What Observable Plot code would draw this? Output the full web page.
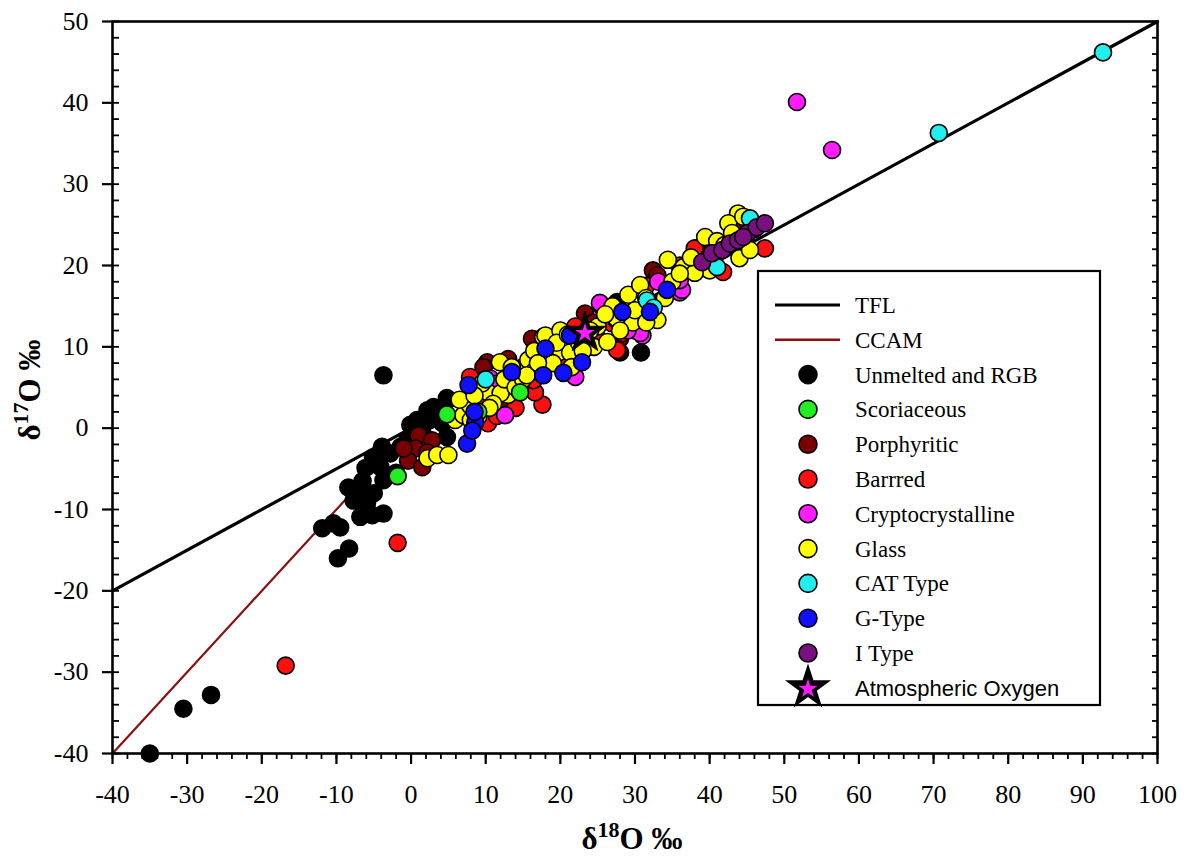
<!DOCTYPE html>
<html>
<head>
<meta charset="utf-8">
<script src="https://cdn.jsdelivr.net/npm/d3@7"></script>
<script src="https://cdn.jsdelivr.net/npm/@observablehq/plot@0.6"></script>
<style>
  html, body { margin: 0; padding: 0; background: #fff; }
  #chart svg { display: block; }
</style>
</head>
<body>
<div id="chart"></div>
<script>
// ---------- data (δ18O, δ17O in ‰) ----------
const categories = ["Unmelted and RGB","Scoriaceous","Porphyritic","Barrred","Cryptocrystalline","Glass","CAT Type","G-Type","I Type"];
const colors = ["#000000","#22ee22","#7a0000","#ff1010","#ff1cff","#ffff00","#22eeee","#1010ff","#7a1080"];

const unmelted = [[-35,-40],[-30.5,-34.5],[-26.8,-32.8],[-11.9,-12.3],[-10.4,-11.7],[-9.5,-12.2],[-9.8,-16.0],[-8.3,-14.8],
  [-8.4,-7.3],[-7.1,-8.0],[-7.7,-8.9],[-5.9,-9.2],[-6.8,-10.9],[-5.2,-10.7],[-3.7,-10.5],[-6.1,-4.9],[-5.1,-3.6],
  [-4.1,-4.8],[-3.7,-6.4],[-3.9,-2.3],[-2.8,-3.1],[-1.4,-2.3],[-3.7,6.5],[-0.1,0.4],[0.8,1.0],[2.2,2.2],[3.0,2.6],
  [4.8,3.7],[4.2,0.6],[4.8,-1.1],[1.5,0.0],[2.5,1.0],[-0.5,-1.5],[-2.0,-5.5],[-6.5,-6.5],[-5.0,-8.0],[28.0,9.3],[30.8,9.3],
  [27.6,15.5],[3.5,1.5],[1.0,-0.5]];
const scoriaceous = [[9.0,2.0],[14.6,4.4],[4.8,1.7],[-1.8,-5.9]];
const porphyritic = [[1.0,-0.9],[2.8,-1.5],[0.6,-2.5],[-0.4,-4.0],[1.5,-4.8],[2.2,-3.0],[-1.0,-2.5],[10.2,8.1],[9.7,7.5],
  [16.2,11.0],[23.3,14.1],[32.4,19.4],[38.3,22.1],[24.5,13.0],[28.0,11.0],[20.0,10.0],[13.0,8.5],[44.0,24.5],[33.0,18.8],[8.0,3.0],[12.0,3.5],
  [25.5,15.0],[18.5,10.8]];
const barred = [[-16.8,-29.2],[-1.8,-14.1],[17.6,2.9],[16.6,4.4],[16.4,5.9],[7.9,6.3],[10.3,0.6],[27.6,9.6],[28.3,11.7],
  [26.9,12.9],[38.3,19.4],[41.8,19.2],[47.4,22.1],[44.7,23.7],[38.0,22.1],[12.5,5.5],[14.0,2.5],[20.5,8.0],[24.0,10.5],
  [30.0,12.0],[22.0,12.5],[9.0,3.0],[36.0,20.0],[11.5,1.5],[25.0,11.0],[31.5,17.5]];
const crypto = [[51.7,40.1],[56.4,34.2],[25.3,15.4],[36.0,16.7],[33.1,18.0],[31.0,11.4],[12.6,1.6],[22.0,6.3],[10.6,6.1],
  [30.7,11.7],[36.3,17.0],[36.0,18.2],[18.4,9.6],[27.5,13.3],[15.0,7.5],[11.5,5.5],[29.0,12.0]];
const glass = [[2.2,-3.7],[3.5,-3.3],[5.0,-3.3],[5.9,1.0],[7.0,1.6],[7.9,2.8],[9.0,1.4],[10.3,4.4],[11.9,8.1],[13.0,4.1],
  [12.0,4.3],[14.5,7.0],[15.7,8.4],[16.5,9.5],[17.7,11.2],[19.6,9.2],[20.6,10.8],[18.0,11.4],[20.0,12.0],[21.3,9.3],
  [18.2,8.4],[22.5,10.5],[24.5,10.0],[26.3,10.6],[25.0,12.5],[29.1,16.4],[29.7,13.0],[33.0,13.3],[30.7,17.6],[31.5,16.0],
  [27.5,13.5],[34.4,20.7],[36.5,19.8],[39.4,23.5],[40.0,19.4],[43.8,26.4],[44.0,20.9],[45.4,21.9],[42.5,25.2],[38.0,19.1],
  [41.0,23.0],[35.0,18.0],[12.5,6.0],[14.0,5.0],[9.5,5.5],[11.0,3.0],[6.5,3.5],[8.5,4.0],[15.0,6.0],[16.5,7.0],
  [23.0,9.5],[21.5,7.5],[19.0,8.0],[28.0,12.0],[32.5,15.0],[37.5,21.0],[42.0,22.5],[27.0,15.0],
  [13.5,7.5],[15.5,6.5],[17.0,8.0],[19.5,10.5],[21.0,11.5],[24.0,12.0],[26.0,14.0],[30.0,14.5],[31.5,13.0],
  [34.0,16.0],[36.0,19.0],[40.5,21.5],[43.0,24.0],[44.5,26.0],[46.0,24.5],[10.5,2.5],[8.0,1.0]];
const catType = [[92.7,46.2],[70.7,36.3],[45.4,25.8],[41.0,19.8],[31.6,15.7],[32.5,14.8],[10.0,6.0]];
const gType = [[7.7,5.3],[8.6,0.7],[7.5,-1.9],[8.2,-0.3],[13.5,6.9],[18.0,9.8],[17.7,6.5],[20.4,6.8],[22.9,8.1],
  [28.3,14.3],[32.0,14.3],[34.3,17.0],[21.3,11.4],[8.5,2.0]];
const iType = [[39.0,20.4],[40.3,21.5],[41.7,21.9],[42.7,22.7],[43.8,23.1],[45.1,24.0],[46.3,24.7],[47.4,25.2],[44.5,23.5]];
const atmosphericOxygen = [[23.3,11.7]];

const tflX = [-40, 100], tflY = [-20, 50];
const ccamX = [-40, 2], ccamY = [-40, 2];

const xMajor = [-40,-30,-20,-10,0,10,20,30,40,50,60,70,80,90,100];
const yMajor = [-40,-30,-20,-10,0,10,20,30,40,50];
const xMinor = d3.range(-40, 100.1, 2);
const yMinor = d3.range(-40, 50.1, 2);

// ---------- build table ----------
const groups = [unmelted, scoriaceous, porphyritic, barred, crypto, glass, catType, gType, iType];
const drawOrder = [0, 2, 3, 4, 5, 1, 6, 7, 8];
const points = [];
for (const gi of drawOrder) for (const [x, y] of groups[gi]) points.push({x, y, cat: categories[gi], color: colors[gi]});
const tfl = tflX.map((x, i) => ({x, y: tflY[i]}));
const ccam = ccamX.map((x, i) => ({x, y: ccamY[i]}));
const star = atmosphericOxygen.map(([x, y]) => ({x, y}));

const serif = "'Liberation Serif', 'Times New Roman', serif";

const chart = Plot.plot({
  width: 1187,
  height: 859,
  marginLeft: 112,
  marginRight: 30,
  marginTop: 21,
  marginBottom: 106,
  style: {fontFamily: serif, fontSize: "26px", background: "#fff", color: "#000"},
  x: {domain: [-40, 100], label: null},
  y: {domain: [-40, 50], label: null},
  marks: [
    Plot.line(tfl, {x: "x", y: "y", stroke: "#000", strokeWidth: 3.2}),
    Plot.line(ccam, {x: "x", y: "y", stroke: "#8b1010", strokeWidth: 2.2}),
    Plot.dot(points, {x: "x", y: "y", r: 8.5, fill: "color", stroke: "#000", strokeWidth: 1.6}),
    Plot.dot(star, {x: "x", y: "y", symbol: "star", r: 13, fill: "#000", stroke: "#000", strokeWidth: 1}),
    Plot.dot(star, {x: "x", y: "y", symbol: "star", r: 6, fill: "#ff1cff"}),
    // bottom axis
    Plot.axisX({ticks: xMajor, tickSize: 11, tickPadding: 20, tickFormat: d => String(d), strokeWidth: 2.2, fontSize: 26}),
    Plot.axisX({ticks: xMinor, tickSize: 6, text: null, strokeWidth: 1.8}),
    // left axis
    Plot.axisY({ticks: yMajor, tickSize: 10, tickPadding: 14, tickFormat: d => String(d), strokeWidth: 2.2, fontSize: 26}),
    Plot.axisY({ticks: yMinor, tickSize: -7, text: null, strokeWidth: 1.8}),
    // right frame ticks (inward)
    Plot.axisY({anchor: "right", ticks: yMinor, tickSize: -6, text: null, strokeWidth: 1.8}),
    Plot.frame({stroke: "#000", strokeWidth: 2.6})
  ]
});
document.getElementById("chart").appendChild(chart);

// ---------- axis titles and legend ----------
const svg = d3.select(chart);
const ns = svg.append("g").attr("font-family", serif).attr("fill", "#000");

const xt = ns.append("text").attr("x", 632).attr("y", 849).attr("text-anchor", "middle")
  .attr("font-size", 31).attr("font-weight", "bold");
xt.append("tspan").text("δ");
xt.append("tspan").attr("font-size", 22).attr("dy", -12).text("18");
xt.append("tspan").attr("dy", 12).text("O");
xt.append("tspan").attr("dx", 8).text("‰");

const yt = ns.append("text").attr("transform", "translate(40,390) rotate(-90)").attr("text-anchor", "middle")
  .attr("font-size", 31).attr("font-weight", "bold");
yt.append("tspan").text("δ");
yt.append("tspan").attr("font-size", 22).attr("dy", -12).text("17");
yt.append("tspan").attr("dy", 12).text("O");
yt.append("tspan").attr("dx", 8).text("‰");

const lg = svg.append("g").attr("text-anchor", "start");
lg.append("rect").attr("x", 758).attr("y", 271).attr("width", 342).attr("height", 434)
  .attr("fill", "#fff").attr("stroke", "#000").attr("stroke-width", 2.2);
const rowY = i => 305 + i * 34.8;
const items = [
  {type: "line", color: "#000", w: 3.2, label: "TFL"},
  {type: "line", color: "#8b1010", w: 2.4, label: "CCAM"},
  ...categories.map((c, i) => ({type: "dot", color: colors[i], label: c})),
  {type: "star", label: "Atmospheric Oxygen"}
];
items.forEach((it, i) => {
  const y = rowY(i);
  if (it.type === "line") {
    lg.append("line").attr("x1", 775).attr("x2", 840).attr("y1", y).attr("y2", y)
      .attr("stroke", it.color).attr("stroke-width", it.w);
  } else if (it.type === "dot") {
    lg.append("circle").attr("cx", 808).attr("cy", y).attr("r", 9)
      .attr("fill", it.color).attr("stroke", "#000").attr("stroke-width", 1.6);
  } else {
    const big = d3.symbol(d3.symbolStar, Math.PI * 14.5 * 14.5)();
    const small = d3.symbol(d3.symbolStar, Math.PI * 6 * 6)();
    lg.append("path").attr("d", big).attr("transform", `translate(808,${y})`).attr("fill", "#000");
    lg.append("path").attr("d", small).attr("transform", `translate(808,${y + 1})`).attr("fill", "#ff1cff");
  }
  lg.append("text").attr("x", 855).attr("y", y).attr("dy", "0.35em").attr("text-anchor", "start")
    .attr("font-family", it.type === "star" ? "'Liberation Sans', Arial, sans-serif" : serif)
    .attr("font-size", it.type === "star" ? 22 : 23)
    .attr("fill", "#000").text(it.label);
});
</script>
</body>
</html>
